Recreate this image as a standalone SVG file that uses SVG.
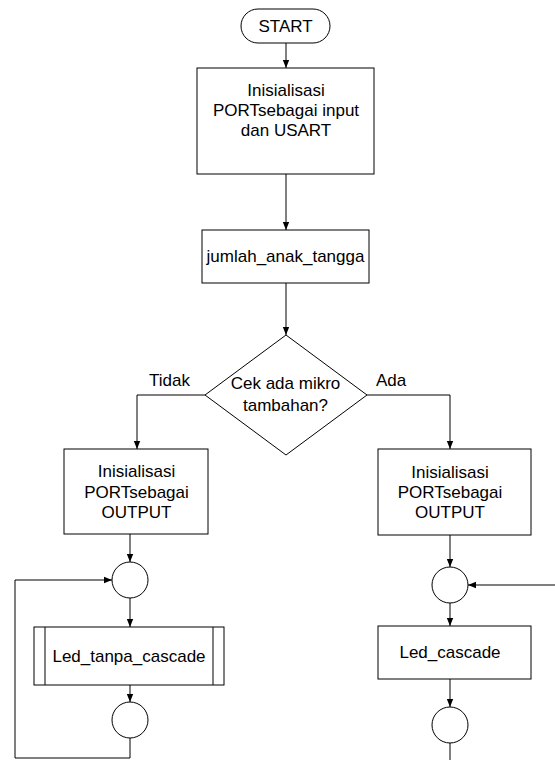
<svg xmlns="http://www.w3.org/2000/svg" width="555" height="760" viewBox="0 0 555 760">
<defs>
<marker id="arr" markerUnits="userSpaceOnUse" markerWidth="8" markerHeight="8" refX="8" refY="4" orient="auto">
<path d="M0,0.8 L8,4 L0,7.2 z" fill="#000"/>
</marker>
<style>
.s{fill:#fff;stroke:#000;stroke-width:1}
.c{fill:none;stroke:#000;stroke-width:1}
.a{marker-end:url(#arr)}
text{font-family:"Liberation Sans",Arial,sans-serif;font-size:17px;fill:#000;text-anchor:middle}
.l{text-anchor:start}
</style>
</defs>
<rect width="555" height="760" fill="#fff"/>
<g id="connectors">
<path class="c a" d="M286,43 V68"/>
<path class="c a" d="M286,174 V230"/>
<path class="c a" d="M286,283 V335"/>
<path class="c a" d="M205,395 H137 V449"/>
<path class="c a" d="M367,395 H450 V449"/>
<path class="c a" d="M130,534 V562"/>
<path class="c a" d="M130,598 V627"/>
<path class="c a" d="M130,685 V702"/>
<path class="c a" d="M130,738 V758 H15 V580 H112"/>
<path class="c a" d="M450,535 V567"/>
<path class="c a" d="M555,585 H468"/>
<path class="c a" d="M450,603 V626"/>
<path class="c a" d="M450,679 V707"/>
<path class="c" d="M450,743 V760"/>
<text class="l" x="149" y="386">Tidak</text>
<text class="l" x="376" y="386">Ada</text>
</g>
<g id="start">
<rect class="s" x="241" y="9" width="89" height="34" rx="17" ry="17"/>
<text x="285.5" y="32">START</text>
</g>
<g id="init">
<rect class="s" x="197" y="68" width="177" height="106"/>
<text x="286" y="96">Inisialisasi</text>
<text x="286" y="116">PORTsebagai input</text>
<text x="286" y="136">dan USART</text>
</g>
<g id="jumlah">
<rect class="s" x="202" y="230" width="167" height="53"/>
<text x="285.5" y="262">jumlah_anak_tangga</text>
</g>
<g id="decision">
<polygon class="s" points="286,335 367,395 286,455 205,395"/>
<text x="285.5" y="389">Cek ada mikro</text>
<text x="285.5" y="411">tambahan?</text>
</g>
<g id="init_left">
<rect class="s" x="64" y="449" width="144" height="85"/>
<text x="136.5" y="477">Inisialisasi</text>
<text x="136.5" y="498">PORTsebagai</text>
<text x="136.5" y="518">OUTPUT</text>
</g>
<g id="circle_left1">
<circle class="s" cx="130" cy="580" r="18"/>
</g>
<g id="led_tanpa">
<rect class="s" x="34" y="627" width="190" height="58"/>
<path class="c" d="M45,627 V685 M213,627 V685"/>
<text x="129" y="662">Led_tanpa_cascade</text>
</g>
<g id="circle_left2">
<circle class="s" cx="130" cy="720" r="18"/>
</g>
<g id="init_right">
<rect class="s" x="378" y="449" width="153" height="86"/>
<text x="450" y="478">Inisialisasi</text>
<text x="450" y="498">PORTsebagai</text>
<text x="450" y="518">OUTPUT</text>
</g>
<g id="circle_right1">
<circle class="s" cx="450" cy="585" r="18"/>
</g>
<g id="led_cascade">
<rect class="s" x="378" y="626" width="153" height="53"/>
<text x="450" y="658">Led_cascade</text>
</g>
<g id="circle_right2">
<circle class="s" cx="450" cy="725" r="18"/>
</g>
</svg>
